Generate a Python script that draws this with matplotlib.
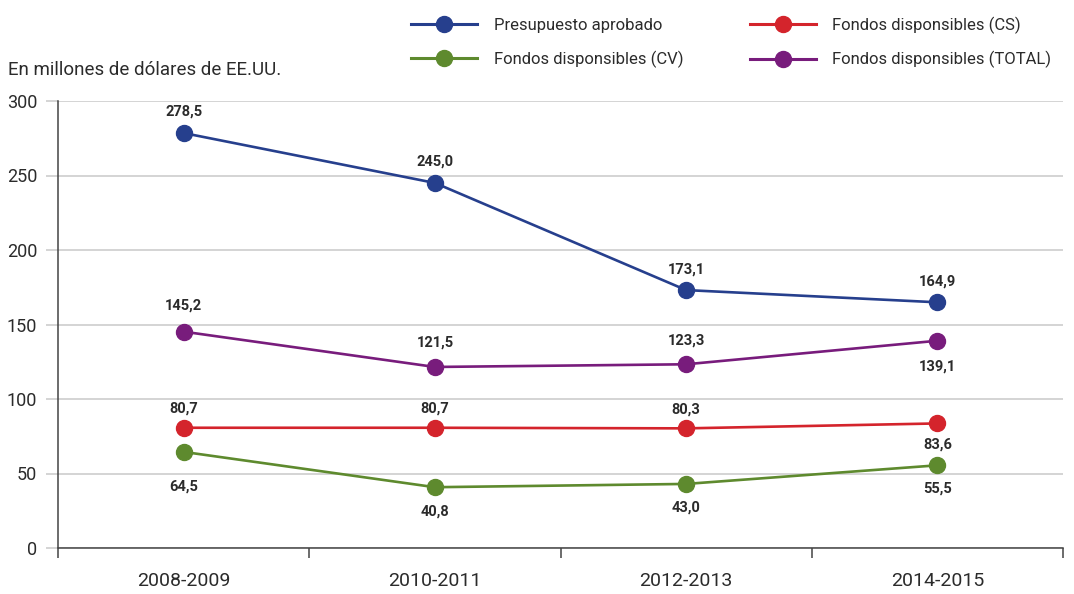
import matplotlib.pyplot as plt
from matplotlib.lines import Line2D

# Data (millions of USD)
periods = ['2008-2009', '2010-2011', '2012-2013', '2014-2015']
presupuesto = [278.5, 245.0, 173.1, 164.9]
fondos_cs = [80.7, 80.7, 80.3, 83.6]
fondos_cv = [64.5, 40.8, 43.0, 55.5]
fondos_total = [145.2, 121.5, 123.3, 139.1]

# label offsets in pixels (positive = above)
series = [
    ('Presupuesto aprobado', presupuesto, '#263f8d', [21, 21, 21, 21]),
    ('Fondos disponsibles (CS)', fondos_cs, '#d4242c', [19, 19, 19, -21]),
    ('Fondos disponsibles (CV)', fondos_cv, '#5e8a2e', [-35, -24, -24, -23]),
    ('Fondos disponsibles (TOTAL)', fondos_total, '#781c7c', [26, 24, 24, -26]),
]

plt.rcParams['font.family'] = ['Roboto', 'DejaVu Sans']

fig = plt.figure(figsize=(10.74, 5.94), dpi=100)
ax = fig.add_axes([58 / 1074, 46 / 594, 1005 / 1074, 447 / 594])

x = list(range(len(periods)))
for name, vals, col, offs in series:
    ax.plot(x, vals, color=col, lw=1.9, marker='o', ms=11.5, zorder=3)
    for xi, v, o in zip(x, vals, offs):
        ax.annotate(f'{v:.1f}'.replace('.', ','), (xi, v), xytext=(0, o * 0.72),
                    textcoords='offset points', ha='center', va='center',
                    fontsize=10.5, fontweight='bold', color='#2b2b2b')

ax.set_xlim(-0.5, 3.5)
ax.set_ylim(0, 300)
ax.set_yticks(range(0, 301, 50))
ax.grid(axis='y', color='#c9c9c9', lw=1.1)
ax.set_axisbelow(True)

ax.set_xticks([-0.5, 0.5, 1.5, 2.5, 3.5])
ax.set_xticklabels([])
ax.set_xticks(x, minor=True)
ax.set_xticklabels(periods, minor=True)
ax.tick_params(axis='x', which='major', length=7, width=1.1, color='#444444', direction='out')
ax.tick_params(axis='x', which='minor', length=0, pad=17, labelsize=14, labelcolor='#2b2b2b')
ax.tick_params(axis='y', length=9, width=1.1, color='#c9c9c9', labelsize=13,
               labelcolor='#2b2b2b', pad=6)

for s in ['top', 'right']:
    ax.spines[s].set_visible(False)
ax.spines['left'].set_color('#444444')
ax.spines['bottom'].set_color('#444444')
ax.spines['left'].set_linewidth(1.1)
ax.spines['bottom'].set_linewidth(1.1)

fig.text(8 / 1074, 1 - 70 / 594, 'En millones de dólares de EE.UU.', fontsize=13.5,
         color='#2b2b2b', va='center', ha='left')

order = [0, 2, 1, 3]
handles = [Line2D([], [], color=series[i][2], lw=2.2, marker='o', ms=11.5) for i in order]
labels = [series[i][0] for i in order]
fig.legend(handles, labels, ncol=2, loc='upper left', bbox_to_anchor=(403 / 1074, 1 - 8 / 594),
           frameon=False, fontsize=12, handlelength=3.95, handletextpad=1.0,
           columnspacing=4.0, labelspacing=1.05, borderpad=0, labelcolor='#2b2b2b')

fig.savefig('out.png', dpi=100)
